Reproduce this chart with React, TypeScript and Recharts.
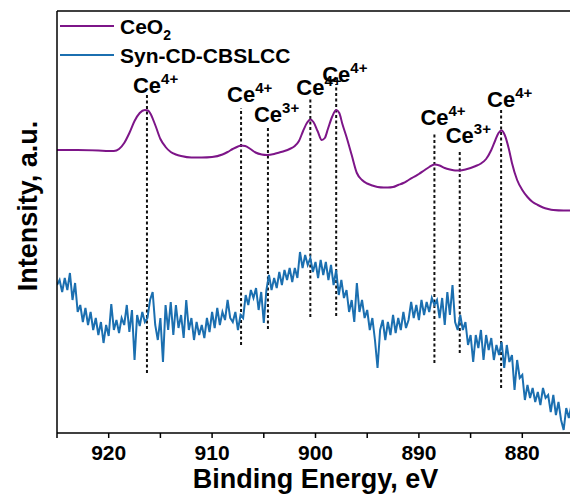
import {
  ComposedChart,
  Legend,
  Line,
  ReferenceLine,
  Scatter,
  XAxis,
  YAxis,
} from "recharts";

const FONT = "'Liberation Sans', Arial, sans-serif";

const SERIES = [
  { name: "CeO", sub: "2", color: "#7d1588" },
  { name: "Syn-CD-CBSLCC", sub: "", color: "#1b6fb0" },
];

const X_TICKS = [925, 920, 915, 910, 905, 900, 895, 890, 885, 880, 875];

// CeO2 reference spectrum (binding energy, intensity a.u.)
const CEO2_EV = [
  925, 923, 921, 920, 919.5, 919, 918.5, 918, 917.5, 917, 916.5, 916.2, 916,
  915.5, 915, 914.5, 914, 913.5, 913, 912, 911, 910, 909, 908.5, 908, 907.5,
  907.2, 906.8, 906.3, 905.8, 905.2, 904.7, 904, 903.5, 903, 902.5, 902, 901.6,
  901.2, 900.8, 900.5, 900.2, 899.8, 899.4, 899.1, 898.8, 898.4, 898, 897.7,
  897.4, 897, 896.5, 896, 895.5, 895, 894.5, 894, 893.4, 893, 892.5, 892, 891.5,
  891, 890.5, 890, 889.5, 889, 888.5, 888, 887.5, 887, 886.5, 886, 885.5, 885,
  884.5, 884, 883.5, 883, 882.6, 882.3, 882, 881.7, 881.3, 881, 880.5, 880,
  879.5, 879, 878.5, 878, 877.5, 877, 876, 875,
];
const CEO2_INT = [
  283, 283, 282.5, 282, 282, 284, 290, 300, 312, 320, 323, 322.5, 320, 308, 294,
  286, 281, 278.5, 277, 275.5, 275.5, 276, 278.5, 281, 284, 286.5, 287.5, 287,
  284, 280.5, 278.5, 278, 279, 280.5, 282, 284, 287, 292, 302, 310.5, 313.5, 311,
  302, 293, 295, 304, 316, 323, 320, 309, 296, 278, 260, 253, 249.5, 247.5, 246,
  245.5, 245.5, 246, 248, 250, 253, 256, 259, 262.5, 266, 268.5, 267.5, 265,
  263.5, 262.5, 262.5, 263.5, 265, 267, 269.5, 274, 283, 293, 300, 302.5, 298,
  284, 270, 253, 243, 236, 231, 228, 225.5, 224, 223, 222.5, 222.5,
];

// Syn-CD-CBSLCC, sampled every 0.25 eV from 925 eV downwards
const SYN_START = 925;
const SYN_STEP = 0.25;
const SYN_INT = [
  148, 153, 141, 155, 143, 160, 133, 150, 121, 128, 111, 125, 108, 121, 103, 115,
  98, 111, 90, 108, 97, 129, 103, 113, 100, 115, 108, 128, 101, 123, 73, 118,
  107, 121, 111, 115, 133, 141, 108, 93, 115, 71, 128, 103, 131, 98, 128, 105,
  118, 95, 133, 103, 115, 93, 111, 98, 108, 95, 115, 101, 121, 105, 125, 108,
  121, 113, 133, 115, 111, 121, 103, 118, 115, 138, 128, 143, 135, 145, 123, 141,
  110, 143, 158, 143, 155, 145, 161, 148, 163, 153, 165, 151, 165, 155, 181, 165,
  178, 168, 175, 161, 171, 155, 173, 158, 171, 153, 168, 148, 163, 138, 153, 135,
  143, 121, 133, 111, 150, 121, 133, 115, 123, 103, 115, 93, 65, 103, 113, 93,
  111, 98, 118, 100, 115, 103, 121, 105, 113, 131, 115, 128, 113, 133, 118, 131,
  121, 135, 128, 133, 115, 135, 108, 141, 118, 148, 111, 103, 118, 103, 111, 88,
  98, 71, 98, 85, 103, 73, 98, 83, 95, 73, 88, 78, 91, 65, 88, 71,
  78, 43, 73, 55, 58, 33, 48, 35, 45, 31, 41, 28, 45, 35, 38, 21,
  38, 18, 31, 13, 3, 25, 15, 28, 23,
];

// dashed peak markers
const PEAK_EV = [916.3, 907.2, 904.6, 900.5, 898.0, 888.5, 886.05, 882.05];
const PEAK_TOP = [340, 325, 306, 335, 349, 300, 283, 325];
const PEAK_BOTTOM = [60, 88, 104, 116, 117, 70, 80, 45];
const PEAK_ION = ["4+", "4+", "3+", "4+", "4+", "4+", "3+", "4+"];
const PEAK_LABEL_AT = [340, 331, 311, 338, 351, 308, 290, 326];

const ceo2Data = CEO2_EV.map((e, i) => ({ e, v: CEO2_INT[i] }));
const synData = SYN_INT.map((v, i) => ({ e: SYN_START - i * SYN_STEP, v }));
const labelData = PEAK_EV.map((e, i) => ({ e, v: PEAK_LABEL_AT[i], ion: PEAK_ION[i] }));

const IonLabel = (props: any) => {
  const { cx, cy, payload } = props;
  return (
    <text x={cx - 14} y={cy} fontFamily={FONT} fontWeight="bold" fontSize={22} fill="#000">
      Ce
      <tspan dy={-9} fontSize={15}>
        {payload.ion}
      </tspan>
    </text>
  );
};

const LegendBox = () => (
  <svg width={400} height={70} style={{ display: "block" }}>
    {SERIES.map((s, i) => {
      const y = 26 + i * 29;
      return (
        <g key={s.name}>
          <line x1={60} x2={114} y1={y} y2={y} stroke={s.color} strokeWidth={2} />
          <text
            x={120}
            y={y + 8}
            fontFamily={FONT}
            fontWeight="bold"
            fontSize={21}
            fill="#000"
          >
            {s.name}
            {s.sub && (
              <tspan dy={6} fontSize={14}>
                {s.sub}
              </tspan>
            )}
          </text>
        </g>
      );
    })}
  </svg>
);

export default function App() {
  return (
    <div
      style={{
        position: "absolute",
        left: 0,
        top: 0,
        width: 570,
        height: 498,
        overflow: "hidden",
        background: "#fff",
      }}
    >
      <ComposedChart
        width={575}
        height={498}
        margin={{ top: 10, right: 1, bottom: 0, left: 0 }}
      >
        <XAxis
          dataKey="e"
          type="number"
          domain={[875, 925]}
          reversed
          allowDataOverflow
          ticks={X_TICKS}
          tickFormatter={(t: number) => (t % 10 === 0 ? String(t) : "")}
          tickSize={5}
          tickMargin={7}
          height={65}
          stroke="#000"
          axisLine={{ stroke: "#000", strokeWidth: 1.5 }}
          tickLine={{ stroke: "#000", strokeWidth: 1.5 }}
          tick={{ fill: "#000", fontSize: 21, fontWeight: "bold", fontFamily: FONT }}
          label={{
            content: (p: any) => {
              const vb = p.viewBox || { x: 57, width: 517, y: 433 };
              return (
                <text
                  x={vb.x + vb.width / 2}
                  y={488}
                  textAnchor="middle"
                  fontFamily={FONT}
                  fontWeight="bold"
                  fontSize={27}
                  fill="#000"
                >
                  Binding Energy, eV
                </text>
              );
            },
          }}
        />
        <XAxis
          xAxisId="top"
          orientation="top"
          dataKey="e"
          type="number"
          domain={[875, 925]}
          reversed
          allowDataOverflow
          tick={false}
          tickLine={false}
          height={1}
          axisLine={{ stroke: "#000", strokeWidth: 1.5 }}
        />
        <YAxis
          type="number"
          domain={[0, 422]}
          allowDataOverflow
          width={57}
          tick={false}
          tickLine={false}
          axisLine={{ stroke: "#000", strokeWidth: 1.5 }}
          label={{
            content: () => (
              <text
                x={37}
                y={206}
                transform="rotate(-90 37 206)"
                textAnchor="middle"
                fontFamily={FONT}
                fontWeight="bold"
                fontSize={27}
                fill="#000"
              >
                Intensity, a.u.
              </text>
            ),
          }}
        />
        <Legend
          layout="vertical"
          align="center"
          verticalAlign="middle"
          wrapperStyle={{ top: 0, left: 0, width: 400, height: 70 }}
          content={() => <LegendBox />}
        />
        {PEAK_EV.map((e, i) => (
          <ReferenceLine
            key={e}
            segment={[
              { x: e, y: PEAK_BOTTOM[i] },
              { x: e, y: PEAK_TOP[i] },
            ]}
            stroke="#111"
            strokeWidth={2}
            strokeDasharray="3 2.5"
          />
        ))}
        <Line
          data={synData}
          dataKey="v"
          name="Syn-CD-CBSLCC"
          type="linear"
          stroke={SERIES[1].color}
          strokeWidth={2}
          dot={false}
          isAnimationActive={false}
        />
        <Line
          data={ceo2Data}
          dataKey="v"
          name="CeO2"
          type="monotone"
          stroke={SERIES[0].color}
          strokeWidth={2}
          dot={false}
          isAnimationActive={false}
        />
        <Scatter
          data={labelData}
          dataKey="v"
          shape={IonLabel}
          legendType="none"
          isAnimationActive={false}
        />
      </ComposedChart>
    </div>
  );
}
